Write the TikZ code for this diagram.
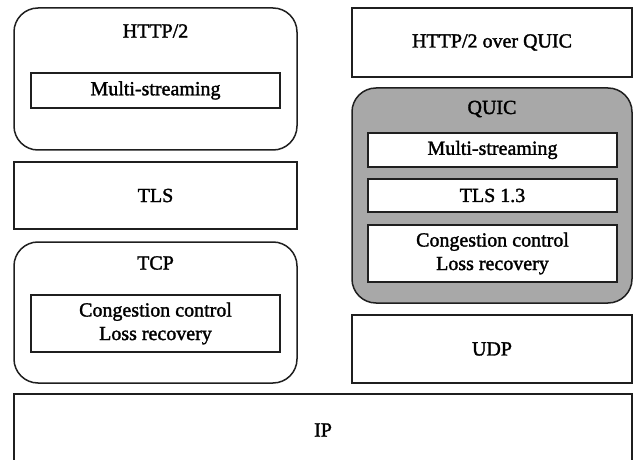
\documentclass[tikz,border=0pt]{standalone}
\usepackage{fontspec}
\setmainfont{Liberation Serif}[FakeBold=1.6]
\begin{document}
\begin{tikzpicture}[x=1pt,y=-1pt,
  layer/.style={draw=black!88, line width=1.5pt, fill=white, inner sep=0pt, outer sep=0pt},
  rlayer/.style={layer, rounded corners=24pt},
  txt/.style={font=\fontsize{20}{23.5}\selectfont, align=center, inner sep=0pt}]
  \useasboundingbox (0,0) rectangle (633,460);
  \begin{scope}
  \clip (0,0) rectangle (633,460);
  % left stack: HTTP/2 over TLS over TCP
  \node[rlayer, minimum width=283pt, minimum height=142pt] (http) at (155.5,79) {};
  \node[txt] (httpl) at (155.5,31) {HTTP/2};
  \node[layer, minimum width=249pt, minimum height=35pt, txt] (ms1) at (155.5,90.5) {Multi-streaming};
  \node[layer, minimum width=283pt, minimum height=67pt, txt] (tls) at (155.5,195.5) {TLS};
  \node[rlayer, minimum width=283pt, minimum height=141pt] (tcp) at (155.5,312.5) {};
  \node[txt] (tcpl) at (155.5,263) {TCP};
  \node[layer, minimum width=249pt, minimum height=57pt, txt] (cc1) at (155.5,323.5) {Congestion control\\Loss recovery};
  % right stack: HTTP/2 over QUIC over UDP
  \node[layer, minimum width=280pt, minimum height=69pt, txt] (hq) at (492,42.5) {HTTP/2 over QUIC};
  \node[rlayer, fill=black!34, minimum width=280pt, minimum height=215pt] (quic) at (492,195.5) {};
  \node[txt] (quicl) at (492,109) {QUIC};
  \node[layer, minimum width=249pt, minimum height=34pt, txt] (ms2) at (492.5,150) {Multi-streaming};
  \node[layer, minimum width=249pt, minimum height=33pt, txt] (tls13) at (492.5,195.5) {TLS 1.3};
  \node[layer, minimum width=249pt, minimum height=57pt, txt] (cc2) at (492.5,253.5) {Congestion control\\Loss recovery};
  \node[layer, minimum width=280pt, minimum height=68pt, txt] (udp) at (492,349) {UDP};
  % shared network layer
  \node[layer, minimum width=618pt, minimum height=80pt] (ip) at (323,434) {};
  \node[txt] (ipl) at (323,430) {IP};
  \end{scope}
\end{tikzpicture}
\end{document}
